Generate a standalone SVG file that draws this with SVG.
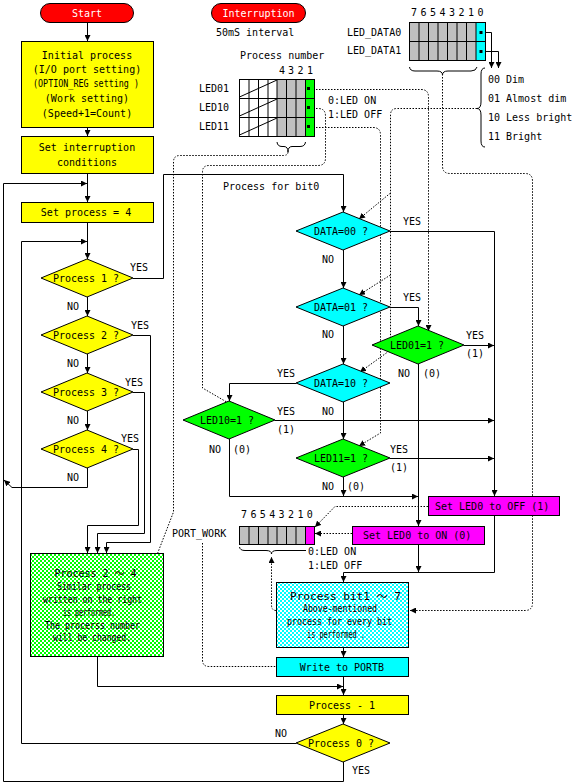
<svg xmlns="http://www.w3.org/2000/svg" width="587" height="784" viewBox="0 0 587 784">
<style>
.t{font-family:"DejaVu Sans Mono","Liberation Mono","Noto Sans CJK JP",monospace;font-size:10px;fill:#000}
.w{fill:#fff}
.m{text-anchor:middle}
.ln{stroke:#000;stroke-width:1;fill:none}
.ar{marker-end:url(#ah)}
.dt{stroke:#000;stroke-width:1;fill:none;stroke-dasharray:1.5 1.5}
.da{marker-end:url(#ah)}
.bx{stroke:#000;stroke-width:1}
.yel{fill:#ffff00}
.cy{fill:#00ffff}
.gr{fill:#00ff00}
.mg{fill:#ff00ff}
.gy{fill:#c0c0c0}
.rd{fill:#ff0000}
</style>
<defs>
<marker id="ah" markerUnits="userSpaceOnUse" markerWidth="6" markerHeight="6" refX="6" refY="3" orient="auto"><path d="M0,0 L6,3 L0,6 z" fill="#000"/></marker>
<pattern id="chkG" width="4" height="4" patternUnits="userSpaceOnUse"><rect width="4" height="4" fill="#fff"/><rect width="2" height="2" fill="#00ff00"/><rect x="2" y="2" width="2" height="2" fill="#00ff00"/></pattern>
<pattern id="chkC" width="4" height="4" patternUnits="userSpaceOnUse"><rect width="4" height="4" fill="#fff"/><rect width="2" height="2" fill="#00ffff"/><rect x="2" y="2" width="2" height="2" fill="#00ffff"/></pattern>
</defs>

<g id="connectors">
<path class="ln ar" d="M87.5,22.5 V41"/>
<path class="ln ar" d="M87.5,127.5 V136"/>
<path class="ln ar" d="M87.5,173.5 V202"/>
<path class="ln ar" d="M87.5,222.5 V259"/>
<path class="ln ar" d="M87.5,297 V316"/>
<path class="ln ar" d="M87.5,354 V373"/>
<path class="ln ar" d="M87.5,411 V430"/>
<path class="ln ar" d="M133,278.5 H163.5 V174.5 H343.5 V212"/>
<path class="ln ar" d="M133,335.5 H150.5 V542.5 H106.5 V553"/>
<path class="ln ar" d="M133,392.5 H144.5 V533.5 H97.5 V553"/>
<path class="ln ar" d="M133,449.5 H138.5 V525.5 H87.5 V553"/>
<path class="ln ar" d="M87.5,468 V487.5 H12 L4,480"/>
<path class="ln ar" d="M343.5,762 V781.5 H3.5 V183.5 H87"/>
<path class="ln ar" d="M296,743.5 H21.5 V241.5 H87"/>
<path class="ln ar" d="M97.5,656.5 V686.5 H343"/>
<path class="ln ar" d="M343.5,250 V288"/>
<path class="ln ar" d="M343.5,326 V364"/>
<path class="ln ar" d="M343.5,402 V439"/>
<path class="ln ar" d="M390,231.5 H494.5 V496"/>
<path class="ln ar" d="M390,307.5 H418.5 V326"/>
<path class="ln ar" d="M296,383.5 H229.5 V401"/>
<path class="ln ar" d="M464,345.5 H494"/>
<path class="ln ar" d="M418.5,364 V526"/>
<path class="ln ar" d="M275,420.5 H494"/>
<path class="ln ar" d="M229.5,439 V496.5 H418"/>
<path class="ln ar" d="M390,458.5 H494"/>
<path class="ln ar" d="M343.5,477 V496"/>
<path class="ln ar" d="M418.5,544.5 V572"/>
<path class="ln ar" d="M494.5,515.5 V572.5 H343.5 V582"/>
<path class="ln ar" d="M343.5,647.5 V657"/>
<path class="ln ar" d="M343.5,676.5 V695"/>
<path class="ln ar" d="M343.5,714.5 V724"/>
<path class="ln ar" d="M481,32.5 H491.5 V68"/>
<path class="ln ar" d="M481,51.5 H498.5 V68"/>
<path class="dt da" d="M310,89.5 H421 Q428.5,89.5 428.5,97 V331"/>
<path class="dt da" d="M310,108.5 H318 Q325.5,108.5 325.5,116 V158 Q325.5,165.5 318,165.5 H209 Q202.5,165.5 202.5,172 V388 L237,408"/>
<path class="dt da" d="M310,127.5 H373 Q380.5,127.5 380.5,135 V433 L359,446"/>
<path class="dt da" d="M288,152 Q288,155.5 283,155.5 H180 Q173.5,155.5 173.5,162 V512 L155,560"/>
<path class="dt da" d="M477,108.5 H397 Q390.5,108.5 390.5,115 V350 L360,372"/>
<path class="dt da" d="M390.5,193 L359,219"/>
<path class="dt da" d="M390.5,275 L359,295"/>
<path class="dt da" d="M442.5,74 V166 Q442.5,173.5 450,173.5 H525 Q532.5,173.5 532.5,181 V603 Q532.5,610.5 525,610.5 H410"/>
<path class="dt da" d="M428,506.5 H335 L315,527"/>
<path class="dt da" d="M352,533.5 H315"/>
<path class="dt da" d="M276,610.5 H276 Q271.5,610.5 271.5,605 V557"/>
<path class="dt da" d="M202.5,543 V660 Q202.5,666.5 209,666.5 H286"/>
</g>

<g id="start">
<rect class="rd bx" x="40.5" y="3.5" width="93" height="19" rx="9.5"/>
<text class="t w m" x="87" y="16.5">Start</text>
</g>
<g id="interruption">
<rect class="rd bx" x="211.5" y="3.5" width="94" height="19" rx="9.5"/>
<text class="t w m" x="258.5" y="16.5">Interruption</text>
<text class="t" x="216" y="35.5">50mS interval</text>
</g>

<g id="init">
<rect class="yel bx" x="21.5" y="41.5" width="132" height="86"/>
<text class="t m" x="87" y="58.5">Initial process</text>
<text class="t m" x="87" y="72.5">(I/O port setting)</text>
<text class="t m" x="86" y="86.5" textLength="106" lengthAdjust="spacingAndGlyphs">(OPTION_REG setting )</text>
<text class="t m" x="87" y="101.5">(Work setting)</text>
<text class="t m" x="87" y="116.5">(Speed+1=Count)</text>
</g>
<g id="setint">
<rect class="yel bx" x="21.5" y="136.5" width="132" height="37"/>
<text class="t m" x="87" y="150.5">Set interruption</text>
<text class="t m" x="87" y="165.5">conditions</text>
</g>
<g id="setproc">
<rect class="yel bx" x="21.5" y="202.5" width="132" height="20"/>
<text class="t m" x="86" y="216">Set process = 4</text>
</g>

<g id="proc1">
<polygon class="yel bx" points="41,278 87,259 133,278 87,297"/>
<text class="t m" x="86" y="281.5">Process 1 ?</text>
<text class="t" x="130" y="270.5">YES</text>
<text class="t" x="67" y="309.5">NO</text>
</g>
<g id="proc2">
<polygon class="yel bx" points="41,335 87,316 133,335 87,354"/>
<text class="t m" x="86" y="338.5">Process 2 ?</text>
<text class="t" x="131" y="328.5">YES</text>
<text class="t" x="67" y="366.5">NO</text>
</g>
<g id="proc3">
<polygon class="yel bx" points="41,392 87,373 133,392 87,411"/>
<text class="t m" x="86" y="395.5">Process 3 ?</text>
<text class="t" x="125" y="385.5">YES</text>
<text class="t" x="67" y="423.5">NO</text>
</g>
<g id="proc4">
<polygon class="yel bx" points="41,449 87,430 133,449 87,468"/>
<text class="t m" x="86" y="452.5">Process 4 ?</text>
<text class="t" x="121" y="441.5">YES</text>
<text class="t" x="67" y="480.5">NO</text>
</g>

<g id="proc24">
<rect class="bx" fill="url(#chkG)" x="30.5" y="553.5" width="133" height="103"/>
<text class="t m" x="95.5" y="576.5">Process 2 ～ 4</text>
<text class="t m" x="94" y="590" textLength="74" lengthAdjust="spacingAndGlyphs">Similar process</text>
<text class="t m" x="92.5" y="602.5" textLength="99" lengthAdjust="spacingAndGlyphs">written on the right</text>
<text class="t m" x="89" y="616" textLength="52" lengthAdjust="spacingAndGlyphs">is performed.</text>
<text class="t m" x="92.5" y="628.5" textLength="95" lengthAdjust="spacingAndGlyphs">The procerss number</text>
<text class="t m" x="92" y="640.5" textLength="78" lengthAdjust="spacingAndGlyphs">will be changed.</text>
</g>

<g id="procnum">
<text class="t" x="240" y="58.5">Process number</text>
<text class="t m" x="282" y="73.5">4</text>
<text class="t m" x="291" y="73.5">3</text>
<text class="t m" x="300.5" y="73.5">2</text>
<text class="t m" x="310" y="73.5">1</text>
<text class="t" x="199" y="91.5">LED01</text>
<text class="t" x="199" y="110.5">LED10</text>
<text class="t" x="199" y="129.5">LED11</text>
<rect fill="#fff" x="239.5" y="79.5" width="37.5" height="57"/>
<rect class="gy" x="277" y="79.5" width="28.5" height="57"/>
<rect class="gr" x="305.5" y="79.5" width="9" height="57"/>
<path class="ln" d="M249,79.5 V136.5 M258.5,79.5 V136.5 M268,79.5 V136.5 M277,79.5 V136.5 M286.5,79.5 V136.5 M296,79.5 V136.5 M305.5,79.5 V136.5 M239.5,98.5 H314.5 M239.5,117.5 H314.5"/>
<path class="ln" d="M239.5,97 L277,80 M239.5,116 L277,99 M239.5,135 L277,118"/>
<rect class="ln" x="239.5" y="79.5" width="75" height="57"/>
<rect x="307" y="87" width="3" height="3" fill="#000"/>
<rect x="307" y="106" width="3" height="3" fill="#000"/>
<rect x="307" y="125" width="3" height="3" fill="#000"/>
<path class="ln" d="M277,142 Q277.5,146.5 282,146.5 H284 Q288,146.5 288,152 Q288,146.5 292,146.5 H300 Q305,146.5 305.5,142"/>
<text class="t" x="328" y="103.5">0:LED ON</text>
<text class="t" x="328" y="117.5">1:LED OFF</text>
</g>

<g id="leddata">
<text class="t" x="347" y="35.5">LED_DATA0</text>
<text class="t" x="347" y="53.5">LED_DATA1</text>
<text class="t m" x="414" y="15.5">7</text>
<text class="t m" x="423.5" y="15.5">6</text>
<text class="t m" x="433" y="15.5">5</text>
<text class="t m" x="442.5" y="15.5">4</text>
<text class="t m" x="452" y="15.5">3</text>
<text class="t m" x="461.5" y="15.5">2</text>
<text class="t m" x="471" y="15.5">1</text>
<text class="t m" x="480.5" y="15.5">0</text>
<rect class="gy" x="409.5" y="22.5" width="66.5" height="38"/>
<rect class="cy" x="476" y="22.5" width="9.5" height="38"/>
<path class="ln" d="M419,22.5 V60.5 M428.5,22.5 V60.5 M438,22.5 V60.5 M447.5,22.5 V60.5 M457,22.5 V60.5 M466.5,22.5 V60.5 M476,22.5 V60.5 M409.5,41.5 H485.5"/>
<rect class="ln" x="409.5" y="22.5" width="76" height="38"/>
<rect x="479.5" y="31" width="3" height="3" fill="#000"/>
<rect x="479.5" y="50" width="3" height="3" fill="#000"/>
<path class="ln" d="M409.5,67 Q410,71 415,71 H437 Q442.5,71 442.5,75 Q442.5,71 448,71 H471 Q476,71 477,67"/>
<path class="ln" d="M485,68 Q481,68 481,74 V102 Q481,108.5 477,108.5 Q481,108.5 481,115 V141 Q481,147 485,147"/>
<text class="t" x="488" y="82.5">00 Dim</text>
<text class="t" x="488" y="101.5">01 Almost dim</text>
<text class="t" x="488" y="120.5">10 Less bright</text>
<text class="t" x="488" y="139.5">11 Bright</text>
</g>

<g id="bit0label">
<text class="t" x="223" y="189.5">Process for bit0</text>
</g>
<g id="data00">
<polygon class="cy bx" points="296,231 343,212 390,231 343,250"/>
<text class="t m" x="341" y="234.5">DATA=00 ?</text>
<text class="t" x="403" y="224.5">YES</text>
<text class="t" x="322" y="262.5">NO</text>
</g>
<g id="data01">
<polygon class="cy bx" points="296,307 343,288 390,307 343,326"/>
<text class="t m" x="341" y="310.5">DATA=01 ?</text>
<text class="t" x="403" y="300.5">YES</text>
<text class="t" x="322" y="337.5">NO</text>
</g>
<g id="data10">
<polygon class="cy bx" points="296,383 343,364 390,383 343,402"/>
<text class="t m" x="341" y="386.5">DATA=10 ?</text>
<text class="t" x="277" y="376.5">YES</text>
<text class="t" x="322" y="414.5">NO</text>
</g>
<g id="led01">
<polygon class="gr bx" points="372,345 418,326 464,345 418,364"/>
<text class="t m" x="417" y="348.5">LED01=1 ?</text>
<text class="t" x="466" y="338.5">YES</text>
<text class="t" x="466" y="356.5">(1)</text>
<text class="t" x="398" y="376.5">NO</text>
<text class="t" x="423" y="376.5">(0)</text>
</g>
<g id="led10">
<polygon class="gr bx" points="183,420 229,401 275,420 229,439"/>
<text class="t m" x="227" y="423.5">LED10=1 ?</text>
<text class="t" x="277" y="414.5">YES</text>
<text class="t" x="277" y="432.5">(1)</text>
<text class="t" x="209" y="452.5">NO</text>
<text class="t" x="233" y="452.5">(0)</text>
</g>
<g id="led11">
<polygon class="gr bx" points="296,458 343,439 390,458 343,477"/>
<text class="t m" x="341" y="461.5">LED11=1 ?</text>
<text class="t" x="390" y="452.5">YES</text>
<text class="t" x="390" y="470.5">(1)</text>
<text class="t" x="322" y="489.5">NO</text>
<text class="t" x="347" y="489.5">(0)</text>
</g>

<g id="setoff">
<rect class="mg bx" x="428.5" y="496.5" width="131" height="19"/>
<text class="t" x="435" y="509.5">Set LED0 to OFF (1)</text>
</g>
<g id="seton">
<rect class="mg bx" x="352.5" y="526.5" width="132" height="18"/>
<text class="t" x="363" y="539">Set LED0 to ON (0)</text>
</g>

<g id="portwork">
<text class="t" x="172" y="536.5">PORT_WORK</text>
<text class="t m" x="244" y="517.5">7</text>
<text class="t m" x="253.4" y="517.5">6</text>
<text class="t m" x="262.8" y="517.5">5</text>
<text class="t m" x="272.2" y="517.5">4</text>
<text class="t m" x="281.6" y="517.5">3</text>
<text class="t m" x="291" y="517.5">2</text>
<text class="t m" x="300.4" y="517.5">1</text>
<text class="t m" x="309.8" y="517.5">0</text>
<rect class="gy" x="239.5" y="526.5" width="66" height="18"/>
<rect class="mg" x="305.5" y="526.5" width="9" height="18"/>
<path class="ln" d="M249,526.5 V544.5 M258.5,526.5 V544.5 M268,526.5 V544.5 M277,526.5 V544.5 M286.5,526.5 V544.5 M296,526.5 V544.5 M305.5,526.5 V544.5"/>
<rect class="ln" x="239.5" y="526.5" width="75" height="18"/>
<path class="ln" d="M239.5,547 Q240,550.5 245,550.5 H266 Q271.5,550.5 271.5,554 Q271.5,550.5 277,550.5 H306"/>
<text class="t" x="308" y="554.5">0:LED ON</text>
<text class="t" x="308" y="568.5">1:LED OFF</text>
</g>

<g id="bit17">
<rect class="bx" fill="url(#chkC)" x="276.5" y="582.5" width="132" height="65"/>
<text class="t m" x="345.5" y="599.5" textLength="111" lengthAdjust="spacingAndGlyphs">Process bit1 ～ 7</text>
<text class="t m" x="340" y="612" textLength="74" lengthAdjust="spacingAndGlyphs">Above-mentioned</text>
<text class="t m" x="339.5" y="625" textLength="105" lengthAdjust="spacingAndGlyphs">process for every bit</text>
<text class="t m" x="336" y="637.5" textLength="58" lengthAdjust="spacingAndGlyphs">is performed .</text>
</g>
<g id="writeportb">
<rect class="cy bx" x="276.5" y="657.5" width="132" height="19"/>
<text class="t m" x="342" y="670.5">Write to PORTB</text>
</g>
<g id="procminus">
<rect class="yel bx" x="276.5" y="695.5" width="132" height="19"/>
<text class="t m" x="342" y="708.5">Process - 1</text>
</g>
<g id="proc0">
<polygon class="yel bx" points="296,743 343,724 390,743 343,762"/>
<text class="t m" x="341" y="746.5">Process 0 ?</text>
<text class="t" x="275" y="736.5">NO</text>
<text class="t" x="352" y="773.5">YES</text>
</g>
</svg>
